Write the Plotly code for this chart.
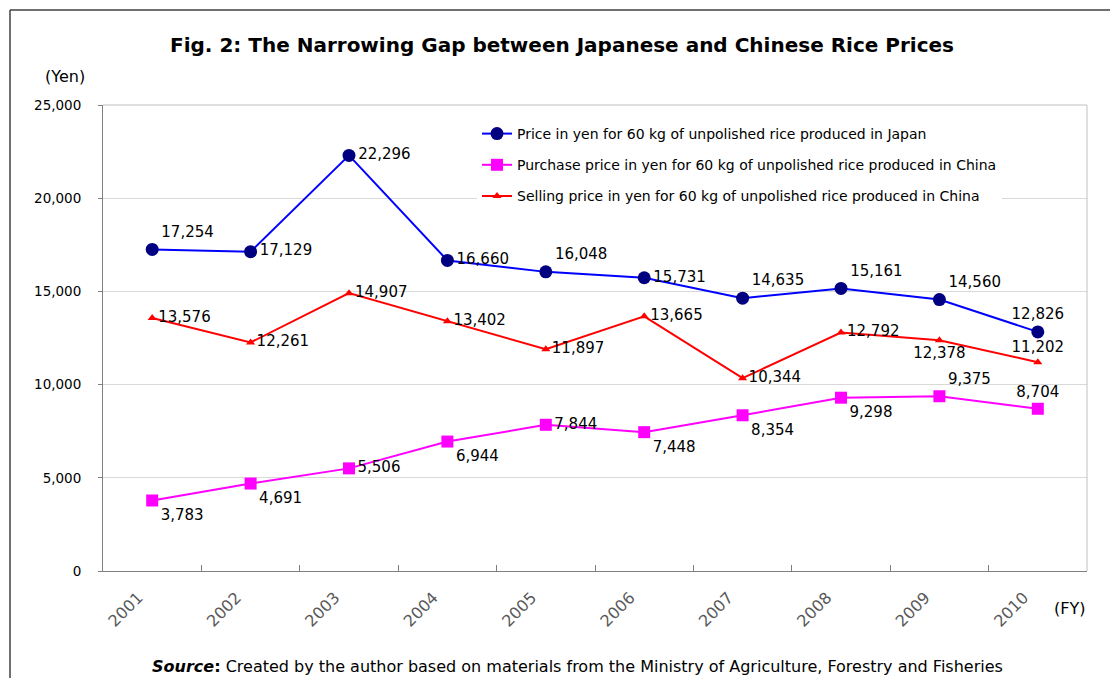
import plotly.graph_objects as go

years = ["2001", "2002", "2003", "2004", "2005", "2006", "2007", "2008", "2009", "2010"]
japan_price = [17254, 17129, 22296, 16660, 16048, 15731, 14635, 15161, 14560, 12826]
china_purchase = [3783, 4691, 5506, 6944, 7844, 7448, 8354, 9298, 9375, 8704]
china_selling = [13576, 12261, 14907, 13402, 11897, 13665, 10344, 12792, 12378, 11202]

names = [
    "Price in yen for 60 kg of unpolished rice produced in Japan",
    "Purchase price in yen for 60 kg of unpolished rice produced in China",
    "Selling price in yen for 60 kg of unpolished rice produced in China",
]

# label placement (style)
pos_japan = ["top right", "middle right", "middle right", "middle right", "top right",
             "middle right", "top right", "top right", "top right", "top center"]
pos_purchase = ["bottom right", "bottom right", "middle right", "bottom right", "middle right",
                "bottom right", "bottom right", "bottom right", "top right", "top center"]
pos_selling = ["middle right", "middle right", "middle right", "middle right", "middle right",
               "middle right", "middle right", "middle right", "bottom center", "top center"]

FONT = "DejaVu Sans"
W, H = 1110, 678
L, R, T, B = 103, 23, 105, 107
PW, PH = W - L - R, H - T - B


def px(x):
    return (x - L) / PW


def py(y):
    return (H - B - y) / PH


def fmt(v):
    return f"{v:,}"


fig = go.Figure()
fig.add_trace(go.Scatter(
    x=years, y=japan_price, name=names[0], mode="lines+markers+text",
    line=dict(color="#0000FF", width=2),
    marker=dict(symbol="circle", size=13, color="#000080"),
    text=[fmt(v) for v in japan_price], textposition=pos_japan,
    textfont=dict(family=FONT, size=15, color="black"),
    legendgroup="a", cliponaxis=False,
))
fig.add_trace(go.Scatter(
    x=years, y=china_purchase, name=names[1], mode="lines+markers+text",
    line=dict(color="#FF00FF", width=2),
    marker=dict(symbol="square", size=12, color="#FF00FF"),
    text=[fmt(v) for v in china_purchase], textposition=pos_purchase,
    textfont=dict(family=FONT, size=15, color="black"),
    legendgroup="b", cliponaxis=False,
))
fig.add_trace(go.Scatter(
    x=years, y=china_selling, name=names[2], mode="lines+markers+text",
    line=dict(color="#FF0000", width=2),
    marker=dict(symbol="triangle-up", size=8, color="#FF0000"),
    text=[fmt(v) for v in china_selling], textposition=pos_selling,
    textfont=dict(family=FONT, size=15, color="black"),
    legendgroup="c", cliponaxis=False,
))

fig.update_layout(
    width=W, height=H,
    margin=dict(l=L, r=R, t=T, b=B),
    paper_bgcolor="white", plot_bgcolor="white",
    font=dict(family=FONT, color="black"),
    title=dict(
        text="<b>Fig. 2: The Narrowing Gap between Japanese and Chinese Rice Prices</b>",
        x=px(562), xanchor="center", xref="paper", y=1 - 45 / H, yanchor="middle",
        font=dict(family=FONT, size=20, color="black"),
    ),
    legend=dict(
        x=px(477), y=py(118), xanchor="left", yanchor="top",
        bgcolor="white", borderwidth=0,
        font=dict(family=FONT, size=14, color="black"),
        traceorder="grouped", tracegroupgap=10,
    ),
    xaxis=dict(
        type="category", range=[-0.5, 9.5],
        showline=True, linecolor="#808080", linewidth=1,
        ticks="inside", tickson="boundaries", ticklen=6, tickcolor="#808080",
        showgrid=False, tickangle=-45,
        tickfont=dict(family=FONT, size=16, color="#595959"),
        ticklabelstandoff=10, ticklabelshift=-14,
    ),
    yaxis=dict(
        range=[0, 25000], dtick=5000, tickformat=",",
        showline=True, linecolor="#808080", linewidth=1,
        ticks="outside", ticklen=4, tickcolor="#808080",
        showgrid=True, gridcolor="#D9D9D9", gridwidth=1,
        zeroline=False,
        tickfont=dict(family=FONT, size=13.5, color="black"),
        ticklabelstandoff=14,
    ),
    shapes=[
        # light plot-area frame (top and right)
        dict(type="line", xref="paper", yref="paper", x0=0, x1=1, y0=1, y1=1,
             line=dict(color="#C0C0C0", width=1)),
        dict(type="line", xref="paper", yref="paper", x0=1, x1=1, y0=0, y1=1,
             line=dict(color="#C0C0C0", width=1)),
        # outer figure border (top and left)
        dict(type="line", xref="paper", yref="paper", x0=px(10), x1=px(W), y0=py(10), y1=py(10),
             line=dict(color="#404040", width=1.5)),
        dict(type="line", xref="paper", yref="paper", x0=px(10), x1=px(10), y0=py(10), y1=py(H),
             line=dict(color="#404040", width=1.5)),
    ],
    annotations=[
        dict(text="(Yen)", xref="paper", yref="paper", x=px(65), y=py(77),
             xanchor="center", yanchor="middle",
             showarrow=False, font=dict(family=FONT, size=16, color="black")),
        dict(text="(FY)", xref="paper", yref="paper", x=px(1069), y=py(608),
             xanchor="center", yanchor="middle",
             showarrow=False, font=dict(family=FONT, size=16, color="black")),
        dict(text="<b><i>Source</i>:</b> Created by the author based on materials from the Ministry of Agriculture, Forestry and Fisheries",
             xref="paper", yref="paper", x=px(577), y=py(666),
             xanchor="center", yanchor="middle",
             showarrow=False, font=dict(family=FONT, size=16, color="black")),
    ],
)

fig.write_html("out.html", config={"displayModeBar": False},
               post_script="document.body.style.margin='0px';")
